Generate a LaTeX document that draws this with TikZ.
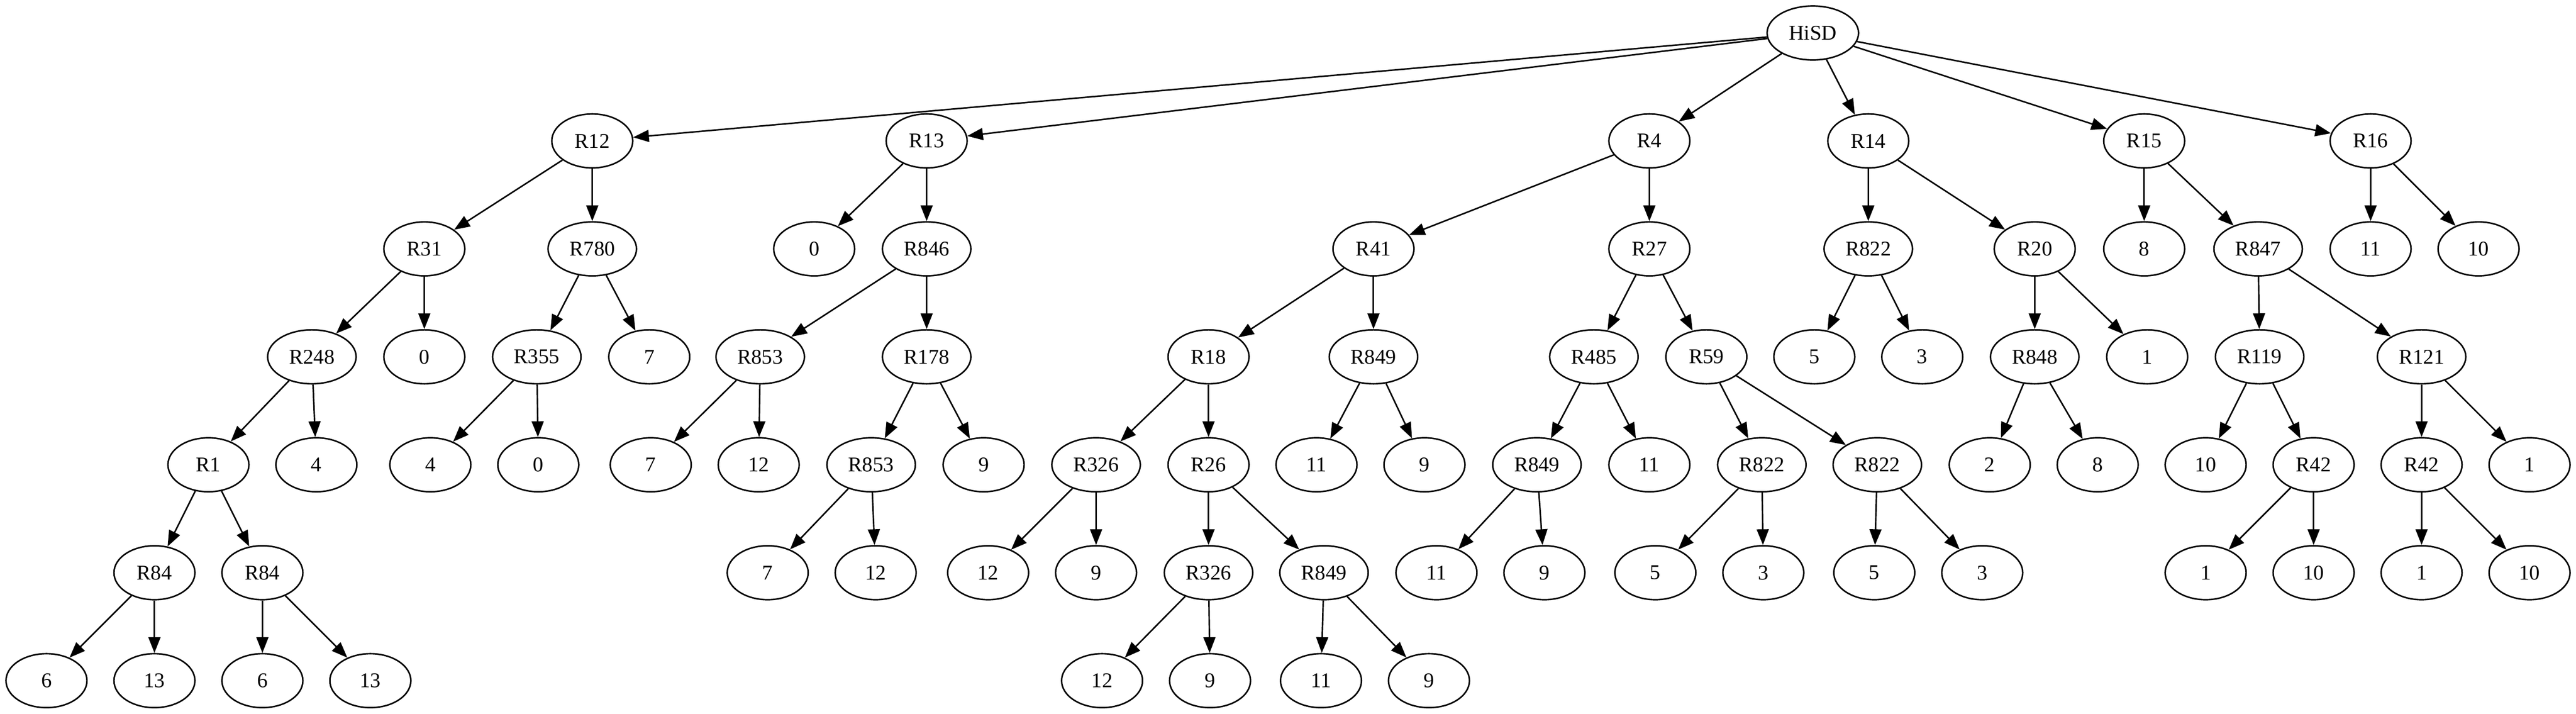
\documentclass[tikz,border=0pt]{standalone}
\usepackage{fontspec}
\setmainfont{Liberation Serif}
\usetikzlibrary{arrows.meta,shapes.geometric}
\begin{document}
\begin{tikzpicture}[x=1pt,y=1pt,
  nd/.style={draw,ellipse,line width=1pt,inner sep=0pt,minimum width=54pt,minimum height=36pt,font=\fontsize{14}{16}\selectfont},
  ndw/.style={nd,minimum width=59pt},
  edge/.style={draw,line width=1pt,-{Triangle[length=10.5pt,width=8pt]}}]
\useasboundingbox[fill=white] (0,0) rectangle (1718,-476);
% rank 0
\node[ndw,minimum width=61pt] (hisd) at (1209,-22) {HiSD};
% rank 1
\node[nd] (r12) at (395,-94) {R12};
\node[nd] (r13) at (618,-94) {R13};
\node[nd] (r4) at (1100,-94) {R4};
\node[nd] (r14) at (1246,-94) {R14};
\node[nd] (r15) at (1430,-94) {R15};
\node[nd] (r16) at (1581,-94) {R16};
% rank 2
\node[nd] (r31) at (283,-166) {R31};
\node[ndw] (r780) at (395,-166) {R780};
\node[nd] (a0) at (543,-166) {0};
\node[ndw] (r846) at (618,-166) {R846};
\node[nd] (r41) at (916,-166) {R41};
\node[nd] (r27) at (1100,-166) {R27};
\node[ndw] (r822a) at (1246,-166) {R822};
\node[nd] (r20) at (1357,-166) {R20};
\node[nd] (a8) at (1430,-166) {8};
\node[ndw] (r847) at (1506,-166) {R847};
\node[nd] (a11) at (1581,-166) {11};
\node[nd] (a10) at (1653,-166) {10};
% rank 3
\node[ndw] (r248) at (208,-238) {R248};
\node[nd] (b0) at (283,-238) {0};
\node[ndw] (r355) at (358,-238) {R355};
\node[nd] (b7) at (433,-238) {7};
\node[ndw] (r853a) at (507,-238) {R853};
\node[ndw] (r178) at (618,-238) {R178};
\node[nd] (r18) at (806,-238) {R18};
\node[ndw] (r849a) at (916,-238) {R849};
\node[ndw] (r485) at (1063,-238) {R485};
\node[nd] (r59) at (1138,-238) {R59};
\node[nd] (b5) at (1210,-238) {5};
\node[nd] (b3) at (1282,-238) {3};
\node[ndw] (r848) at (1357,-238) {R848};
\node[nd] (b1) at (1432,-238) {1};
\node[ndw] (r119) at (1507,-238) {R119};
\node[ndw] (r121) at (1615,-238) {R121};
% rank 4
\node[nd] (r1) at (139,-310) {R1};
\node[nd] (c4a) at (211,-310) {4};
\node[nd] (c4b) at (287,-310) {4};
\node[nd] (c0) at (359,-310) {0};
\node[nd] (c7) at (434,-310) {7};
\node[nd] (c12) at (506,-310) {12};
\node[ndw] (r853b) at (581,-310) {R853};
\node[nd] (c9a) at (656,-310) {9};
\node[ndw] (r326a) at (731,-310) {R326};
\node[nd] (r26) at (806,-310) {R26};
\node[nd] (c11a) at (878,-310) {11};
\node[nd] (c9b) at (950,-310) {9};
\node[ndw] (r849b) at (1025,-310) {R849};
\node[nd] (c11b) at (1100,-310) {11};
\node[ndw] (r822b) at (1175,-310) {R822};
\node[ndw] (r822c) at (1252,-310) {R822};
\node[nd] (c2) at (1327,-310) {2};
\node[nd] (c8) at (1399,-310) {8};
\node[nd] (c10) at (1471,-310) {10};
\node[nd] (r42a) at (1543,-310) {R42};
\node[nd] (r42b) at (1615,-310) {R42};
\node[nd] (c1) at (1687,-310) {1};
% rank 5
\node[nd] (r84a) at (103,-382) {R84};
\node[nd] (r84b) at (175,-382) {R84};
\node[nd] (d7) at (512,-382) {7};
\node[nd] (d12a) at (584,-382) {12};
\node[nd] (d12b) at (659,-382) {12};
\node[nd] (d9a) at (731,-382) {9};
\node[ndw] (r326b) at (806,-382) {R326};
\node[ndw] (r849c) at (883,-382) {R849};
\node[nd] (d11) at (958,-382) {11};
\node[nd] (d9b) at (1030,-382) {9};
\node[nd] (d5a) at (1104,-382) {5};
\node[nd] (d3a) at (1176,-382) {3};
\node[nd] (d5b) at (1250,-382) {5};
\node[nd] (d3b) at (1322,-382) {3};
\node[nd] (d1a) at (1471,-382) {1};
\node[nd] (d10a) at (1543,-382) {10};
\node[nd] (d1b) at (1615,-382) {1};
\node[nd] (d10b) at (1687,-382) {10};
% rank 6
\node[nd] (e6a) at (31,-454) {6};
\node[nd] (e13a) at (103,-454) {13};
\node[nd] (e6b) at (175,-454) {6};
\node[nd] (e13b) at (247,-454) {13};
\node[nd] (e12) at (735,-454) {12};
\node[nd] (e9a) at (807,-454) {9};
\node[nd] (e11) at (881,-454) {11};
\node[nd] (e9b) at (953,-454) {9};
% edges
\foreach \s/\t in {hisd/r12,hisd/r13,hisd/r4,hisd/r14,hisd/r15,hisd/r16,
  r12/r31,r12/r780,r31/r248,r31/b0,r248/r1,r248/c4a,r1/r84a,r1/r84b,
  r84a/e6a,r84a/e13a,r84b/e6b,r84b/e13b,r780/r355,r780/b7,r355/c4b,r355/c0,
  r13/a0,r13/r846,r846/r853a,r846/r178,r853a/c7,r853a/c12,r178/r853b,r178/c9a,
  r853b/d7,r853b/d12a,
  r4/r41,r4/r27,r41/r18,r41/r849a,r18/r326a,r18/r26,r326a/d12b,r326a/d9a,
  r26/r326b,r26/r849c,r326b/e12,r326b/e9a,r849c/e11,r849c/e9b,
  r849a/c11a,r849a/c9b,r27/r485,r27/r59,r485/r849b,r485/c11b,r849b/d11,r849b/d9b,
  r59/r822b,r59/r822c,r822b/d5a,r822b/d3a,r822c/d5b,r822c/d3b,
  r14/r822a,r14/r20,r822a/b5,r822a/b3,r20/r848,r20/b1,r848/c2,r848/c8,
  r15/a8,r15/r847,r847/r119,r847/r121,r119/c10,r119/r42a,r42a/d1a,r42a/d10a,
  r121/r42b,r121/c1,r42b/d1b,r42b/d10b,r16/a11,r16/a10}
  \draw[edge] (\s) -- (\t);
\end{tikzpicture}
\end{document}
